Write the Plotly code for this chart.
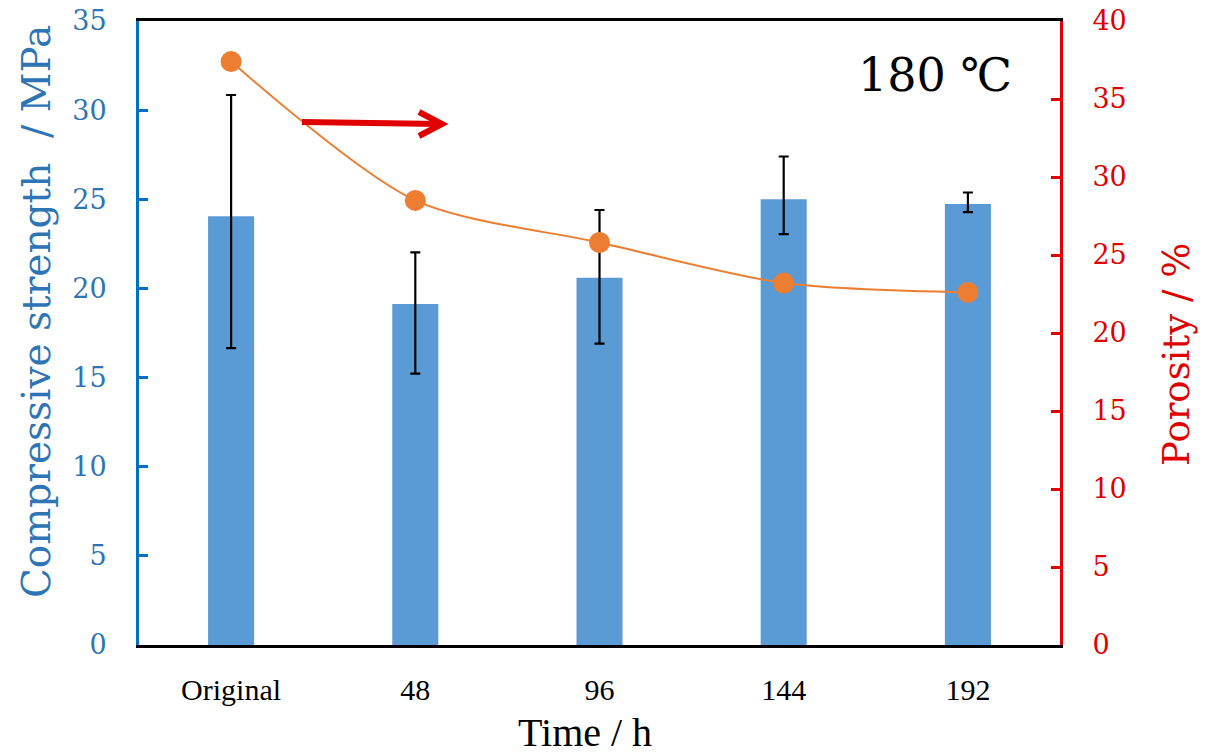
import plotly.graph_objects as go

categories = ["Original", "48", "96", "144", "192"]
strength = [24.05, 19.12, 20.6, 25.0, 24.73]
strength_err_plus = [6.8, 2.9, 3.8, 2.4, 0.65]
strength_err_minus = [7.4, 3.9, 3.7, 1.95, 0.45]
porosity = [37.4, 28.5, 25.8, 23.2, 22.6]

BLUE_TXT = "#2E75B6"
BLUE_AX = "#0070C0"
RED = "#E00000"
SERIF = "DejaVu Serif"
TIMES = "Liberation Serif"

L, R, T, B = 139, 1060, 21, 645
W, H = R - L, B - T

def px(xp):
    return (xp - L) / W

def py(yp):
    return (B - yp) / H

fig = go.Figure()
fig.add_trace(go.Bar(
    x=categories, y=strength, width=0.25,
    marker=dict(color="#5B9BD5", line=dict(width=0)),
    error_y=dict(type="data", array=strength_err_plus, arrayminus=strength_err_minus,
                 symmetric=False, color="black", thickness=2.2, width=5),
    yaxis="y", showlegend=False,
))
fig.add_trace(go.Scatter(
    x=categories, y=porosity, mode="lines+markers",
    line=dict(color="#ED7D31", width=2, shape="spline", smoothing=0.8),
    marker=dict(color="#ED7D31", size=21),
    yaxis="y2", showlegend=False,
))

fig.update_layout(
    width=1205, height=754,
    margin=dict(l=L, r=1205 - R, t=T, b=754 - B),
    paper_bgcolor="white", plot_bgcolor="white",
    xaxis=dict(
        showline=True, linecolor="black", linewidth=3, mirror=True, automargin=False,
        ticks="", showgrid=False, ticklabelstandoff=16,
        tickfont=dict(family=TIMES, size=30, color="black"),
    ),
    yaxis=dict(
        range=[0, 35], dtick=5, showgrid=False, zeroline=False, automargin=False,
        showline=True, linecolor=BLUE_AX, linewidth=3,
        ticks="inside", ticklen=9, tickwidth=3, tickcolor=BLUE_AX,
        ticklabelstandoff=24,
        tickfont=dict(family=SERIF, size=27, color=BLUE_TXT),
    ),
    yaxis2=dict(
        range=[0, 40], dtick=5, overlaying="y", side="right", showgrid=False, zeroline=False,
        automargin=False,
        showline=True, linecolor=RED, linewidth=3,
        ticks="inside", ticklen=9, tickwidth=3, tickcolor=RED,
        ticklabelstandoff=24,
        tickfont=dict(family=SERIF, size=27, color=RED),
    ),
)

# axis titles
fig.add_annotation(x=px(585), y=py(732), xref="paper", yref="paper", xanchor="center", yanchor="middle",
                   text="Time / h", showarrow=False, font=dict(family=TIMES, size=40, color="black"))
fig.add_annotation(x=px(36), y=py(312), xref="paper", yref="paper", xanchor="center", yanchor="middle",
                   textangle=-90, text="Compressive strength  / MPa", showarrow=False,
                   font=dict(family=SERIF, size=39, color=BLUE_TXT))
fig.add_annotation(x=px(1176), y=py(355), xref="paper", yref="paper", xanchor="center", yanchor="middle",
                   textangle=-90, text="Porosity / %", showarrow=False,
                   font=dict(family=SERIF, size=37, color=RED))

fig.add_annotation(x=px(935), y=py(75), xref="paper", yref="paper",
                   xanchor="center", yanchor="middle", text="180 ℃", showarrow=False,
                   font=dict(family=SERIF, size=46, color="black"))

# red arrow (pointing to the right-hand axis): shaft + open chevron head
fig.add_shape(type="line", xref="paper", yref="paper",
              x0=px(302), y0=py(122), x1=px(440), y1=py(124),
              line=dict(color="#E00000", width=6))
fig.add_shape(type="path", xref="paper", yref="paper",
              path=f"M {px(419)} {py(112)} L {px(442)} {py(124)} L {px(419)} {py(136)}",
              line=dict(color="#E00000", width=6))

fig.write_html("out.html")
